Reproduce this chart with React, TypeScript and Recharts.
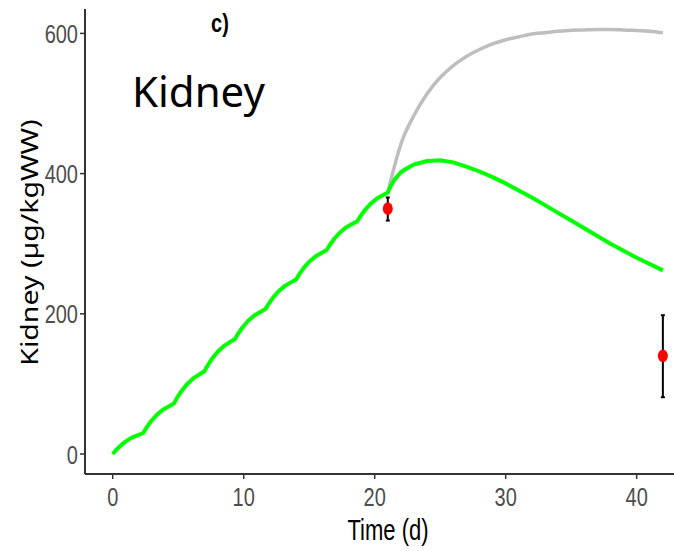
import React from "react";
import { ComposedChart, Line, Scatter, XAxis, YAxis, ErrorBar } from "recharts";

const xTicks = [0, 10, 20, 30, 40];
const yTicks = [0, 200, 400, 600];

// Model prediction with continued exposure (grey)
const greyTime = [21, 21.2, 21.5, 22, 23, 24, 25, 26, 27, 28, 29, 30, 31, 32, 33, 34, 35, 36, 37, 38, 39, 40, 41, 42];
const greyValue = [373, 388, 410, 442, 483, 514, 537, 554, 567, 577, 585, 591, 595, 599, 601, 603, 604.5, 605, 605.5, 605.5, 605, 604, 603, 601];

// Model prediction (green)
const greenTime = [
  0, 0.25, 0.6, 1.0, 1.5, 2.33,
  2.58, 2.93, 3.33, 3.83, 4.67,
  4.92, 5.27, 5.67, 6.17, 7.0,
  7.25, 7.6, 8.0, 8.5, 9.33,
  9.58, 9.93, 10.33, 10.83, 11.67,
  11.92, 12.27, 12.67, 13.17, 14.0,
  14.25, 14.6, 15.0, 15.5, 16.33,
  16.58, 16.93, 17.33, 17.83, 18.67,
  18.92, 19.27, 19.67, 20.17, 21.0,
  21.25, 21.5, 22, 22.5, 23, 24, 25, 26, 27, 28, 29, 30, 31, 32, 33, 34, 35, 36, 37, 38, 39, 40, 41, 42,
];
const greenValue = [
  0, 5.4, 12, 18, 23.7, 30,
  37.6, 46.8, 55.2, 63.2, 72,
  80.3, 90.4, 99.6, 108.3, 118,
  126.3, 136.4, 145.6, 154.3, 164,
  171.7, 181.2, 189.8, 198, 207,
  214.6, 223.8, 232.2, 240.2, 249,
  256.6, 265.8, 274.2, 282.2, 291,
  298.4, 307.4, 315.6, 323.4, 332,
  339.4, 348.4, 356.6, 364.4, 373,
  383, 391, 402, 408, 413, 418, 419, 416, 410, 403, 395, 386, 376, 366, 355, 344, 333, 322, 311, 300, 290, 280, 271, 262,
];

// Observations
const obsTime = [21, 42];
const obsMean = [350, 140];
const obsLow = [333, 81];
const obsHigh = [366, 198];

const greenData = greenTime.map((t, i) => ({ t, v: greenValue[i] }));
const greyData = greyTime.map((t, i) => ({ t, v: greyValue[i] }));
const obsData = obsTime.map((t, i) => ({
  t,
  v: obsMean[i],
  err: [obsMean[i] - obsLow[i], obsHigh[i] - obsMean[i]],
}));

const sans = "'Liberation Sans', Arial, sans-serif";

const RedDot = (props: any) => {
  const { cx, cy } = props;
  if (cx == null || cy == null) return null;
  return <ellipse cx={cx} cy={cy} rx={5} ry={6.3} fill="#FF0000" />;
};

const NoDot = () => <g />;

const XTick = (props: any) => {
  const { x, payload } = props;
  return (
    <text
      transform={`translate(${x},506) scale(1,1.33)`}
      textAnchor="middle"
      fontFamily={sans}
      fontSize={20}
      fill="#4D4D4D"
    >
      {payload.value}
    </text>
  );
};

const YTick = (props: any) => {
  const { y, payload } = props;
  return (
    <text
      transform={`translate(78,${y + 9.5}) scale(1,1.33)`}
      textAnchor="end"
      fontFamily={sans}
      fontSize={20}
      fill="#4D4D4D"
    >
      {payload.value}
    </text>
  );
};

export default function App() {
  return (
    <div style={{ position: "absolute", left: 0, top: 0, width: 674, height: 551, background: "#fff" }}>
      <ComposedChart width={674} height={551} margin={{ top: 9, right: 0, bottom: 0, left: 0 }}>
        <XAxis
          dataKey="t"
          type="number"
          domain={[-2.115, 42.85]}
          ticks={xTicks}
          allowDataOverflow
          height={77}
          axisLine={{ stroke: "#333333", strokeWidth: 2 }}
          tickLine={{ stroke: "#333333", strokeWidth: 1.5 }}
          tickSize={5}
          tick={<XTick />}
        />
        <YAxis
          dataKey="v"
          type="number"
          domain={[-28.5, 634.8]}
          ticks={yTicks}
          allowDataOverflow
          width={85}
          axisLine={{ stroke: "#333333", strokeWidth: 2 }}
          tickLine={{ stroke: "#333333", strokeWidth: 1.5 }}
          tickSize={5}
          tick={<YTick />}
        />
        <Line data={greyData} dataKey="v" type="monotone" stroke="#BEBEBE" strokeWidth={3.5} dot={false} isAnimationActive={false} />
        <Line data={greenData} dataKey="v" type="linear" stroke="#00FF00" strokeWidth={4} dot={false} isAnimationActive={false} strokeLinejoin="round" />
        <Scatter data={obsData} dataKey="v" shape={RedDot} isAnimationActive={false} />
        <Scatter data={obsData} dataKey="v" shape={NoDot} isAnimationActive={false}>
          <ErrorBar dataKey="err" direction="y" width={2} stroke="#000000" strokeWidth={2} isAnimationActive={false} />
        </Scatter>
      </ComposedChart>
      <svg width={674} height={551} style={{ position: "absolute", left: 0, top: 0, pointerEvents: "none" }}>
        <text transform="translate(220,32) scale(1,1.33)" textAnchor="middle" fontFamily={sans} fontWeight="bold" fontSize={20} fill="#000">c)</text>
        <text x={132} y={107} fontFamily="'Noto Sans', sans-serif" fontSize={42} fill="#000">Kidney</text>
        <text transform="translate(388,540) scale(1,1.33)" textAnchor="middle" fontFamily={sans} fontSize={22} fill="#000">Time (d)</text>
        <text
          transform="translate(38,242.5) rotate(-90) scale(1.24,1)"
          textAnchor="middle"
          fontFamily="'Noto Sans', sans-serif"
          fontSize={23}
          fill="#000"
        >
          Kidney (µg/kgWW)
        </text>
      </svg>
    </div>
  );
}
